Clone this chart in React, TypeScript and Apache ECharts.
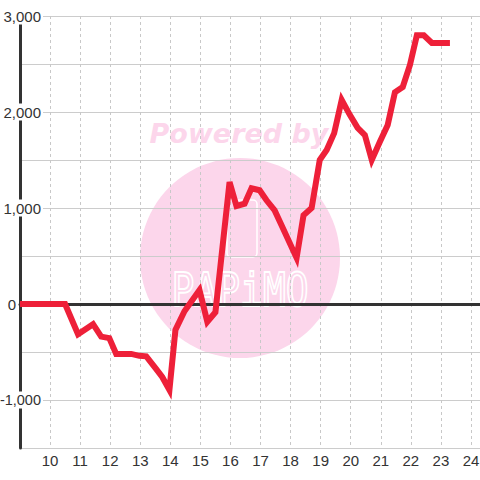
import React, { useEffect, useRef } from "react";
import * as echarts from "echarts";

const xValues = [
  9, 10.5, 10.93, 11.43, 11.7, 11.97, 12.2, 12.7, 12.97, 13.2, 13.5, 13.73, 13.97,
  14.17, 14.47, 14.97, 15.23, 15.5, 15.97, 16.2, 16.47, 16.7, 16.97, 17.2, 17.47,
  17.73, 18.2, 18.43, 18.7, 18.97, 19.2, 19.45, 19.7, 19.97, 20.23, 20.47, 20.7,
  20.97, 21.23, 21.47, 21.73, 21.97, 22.2, 22.43, 22.7, 23.3,
];
const yValues = [
  0, 0, -315, -210, -340, -355, -520, -520, -540, -545, -665, -760, -895,
  -270, -75, 145, -185, -85, 1270, 1020, 1045, 1205, 1185, 1080, 975,
  800, 480, 925, 1000, 1500, 1605, 1780, 2125, 1970, 1835, 1760, 1500,
  1690, 1865, 2205, 2260, 2490, 2800, 2800, 2720, 2720,
];
const xTickLabels = ["10", "11", "12", "13", "14", "15", "16", "17", "18", "19", "20", "21", "22", "23", "24"];
const yTickLabels = ["-1,000", "0", "1,000", "2,000", "3,000"];

const FONT = "Liberation Sans, Arial, sans-serif";

export default function App() {
  const ref = useRef<HTMLDivElement>(null);
  useEffect(() => {
    if (!ref.current) return;
    const chart = echarts.init(ref.current, null, { renderer: "svg" });
    const data = xValues.map((x, i) => [x, yValues[i]]);
    const option: any = {
      animation: false,
      backgroundColor: "#ffffff",
      grid: {
        left: 20,
        right: 0,
        top: 16,
        bottom: 32,
        containLabel: false,
        outerBoundsMode: "none",
      },
      graphic: {
        elements: [
          {
            type: "circle",
            z: -1,
            silent: true,
            shape: { cx: 240, cy: 258, r: 100 },
            style: { fill: "#fcd6eb" },
          },
          {
            type: "text",
            z: -1,
            silent: true,
            x: 239,
            y: 133,
            style: {
              text: "Powered by",
              fill: "#fcd6eb",
              font: "italic bold 27px 'DejaVu Sans', sans-serif",
              align: "center",
              verticalAlign: "middle",
            },
          },
          {
            type: "rect",
            z: -1,
            silent: true,
            shape: { x: 227, y: 200, width: 30, height: 57, r: 4 },
            style: { fill: "none", stroke: "#ffffff", lineWidth: 1.5 },
          },
          {
            type: "text",
            z: -1,
            silent: true,
            x: 240,
            y: 290,
            scaleY: 1.2,
            style: {
              text: "PAPiMO",
              fill: "rgba(0,0,0,0)",
              stroke: "#ffffff",
              lineWidth: 1.5,
              font: "38px 'DejaVu Sans Mono', monospace",
              align: "center",
              verticalAlign: "middle",
            },
          },
        ],
      },
      xAxis: [
        {
          type: "value",
          min: 9,
          max: 24.3,
          interval: 1,
          position: "bottom",
          z: 1,
          axisLine: { show: true, onZero: true, lineStyle: { color: "#333333", width: 3 } },
          axisTick: { show: false },
          axisLabel: { show: false },
          splitLine: { show: true, lineStyle: { color: "#c8c8c8", width: 1, type: [3, 3] } },
        },
        {
          type: "value",
          min: 9,
          max: 24.3,
          interval: 1,
          position: "bottom",
          z: 0,
          axisLine: { show: false, onZero: false },
          axisTick: { show: false },
          splitLine: { show: false },
          axisLabel: {
            show: true,
            margin: 5,
            fontSize: 15,
            fontFamily: FONT,
            color: "#333333",
            showMinLabel: true,
            showMaxLabel: true,
            hideOverlap: false,
            formatter: (v: number) => {
              const s = String(v);
              return xTickLabels.indexOf(s) >= 0 ? s : "";
            },
          },
        },
      ],
      yAxis: [
        {
          type: "value",
          min: -1500,
          max: 3000,
          interval: 500,
          z: 0,
          axisLine: { show: false },
          axisTick: { show: false },
          axisLabel: { show: false },
          splitLine: { show: true, lineStyle: { color: "#cccccc", width: 1 } },
        },
        {
          type: "value",
          min: -1500,
          max: 3000,
          interval: 500,
          position: "left",
          z: 1,
          axisLine: { show: true, onZero: false, lineStyle: { color: "#333333", width: 3 } },
          axisTick: { show: false },
          splitLine: { show: false },
          axisLabel: {
            show: true,
            margin: -23,
            hideOverlap: false,
            formatter: (v: number) => {
              const s = v.toLocaleString("en-US");
              if (yTickLabels.indexOf(s) < 0) return "";
              if (s === "0") return "{z|0}";
              if (s.charAt(0) === "-") return "{n|" + s + "}";
              return "{a|" + s + "}";
            },
            rich: {
              a: {
                fontSize: 15,
                fontFamily: FONT,
                color: "#333333",
                backgroundColor: "#ffffff",
                padding: [1, 2, 1, 2],
              },
              n: {
                fontSize: 14.5,
                fontFamily: FONT,
                color: "#333333",
                backgroundColor: "#ffffff",
                padding: [1, 2, 1, 0],
              },
              z: {
                fontSize: 15,
                fontFamily: FONT,
                color: "#333333",
                padding: [0, 27, 0, 0],
              },
            },
          },
        },
      ],
      series: [
        {
          type: "line",
          data,
          xAxisIndex: 0,
          yAxisIndex: 0,
          showSymbol: false,
          symbol: "none",
          z: 2,
          lineStyle: { color: "#ee2039", width: 6, join: "miter", cap: "butt" },
        },
      ],
    };
    chart.setOption(option);
    return () => chart.dispose();
  }, []);
  return (
    <div
      ref={ref}
      style={{ position: "fixed", left: 0, top: 0, width: 480, height: 480 }}
    />
  );
}
